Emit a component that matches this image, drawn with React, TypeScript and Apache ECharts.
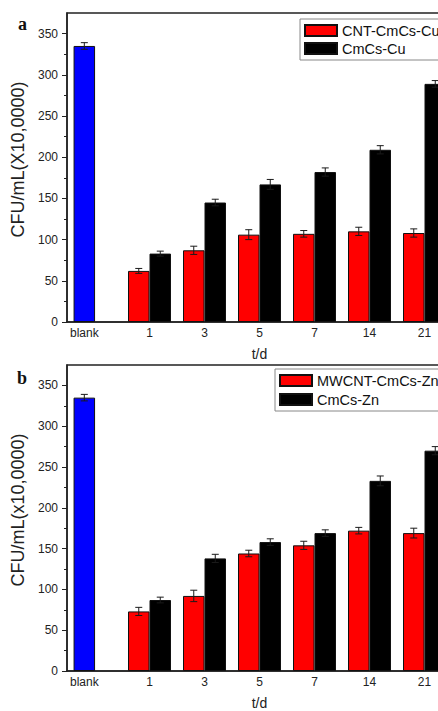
import React, { useEffect, useRef } from "react";
import * as echarts from "echarts";

// ---------- data ----------
const dayLabels = ["1", "3", "5", "7", "14", "21"];
const blankLabel = "blank";

// panel a (Cu)
const blankCu = 335;
const blankCuErr = 4;
const cntCu = [62, 87, 106, 107, 110, 108];
const cntCuErr = [3, 5, 6, 4, 5, 5];
const cmcsCu = [83, 145, 167, 182, 209, 289];
const cmcsCuErr = [3, 4, 6, 5, 5, 4];

// panel b (Zn)
const blankZn = 335;
const blankZnErr = 4;
const mwcntZn = [73, 92, 144, 154, 172, 169];
const mwcntZnErr = [5, 7, 4, 5, 4, 6];
const cmcsZn = [87, 138, 158, 169, 233, 270];
const cmcsZnErr = [3.5, 5, 4, 4, 6, 5];

const yTicks = [0, 50, 100, 150, 200, 250, 300, 350];

// ---------- layout ----------
const FONT = "'Liberation Sans', Arial, sans-serif";
const CHART_W = 460;
const GRID_LEFT = 67;
const GRID_W = 385;
const X_MIN = -0.5;
const X_MAX = 6.5;
const UNIT_PX = GRID_W / (X_MAX - X_MIN);
const BAR_PX = 21.5;
const HALF = BAR_PX / UNIT_PX / 2;
const BLANK_POS = -0.185;
const dayPos = dayLabels.map((_, i) => i + 1);
const labelPos = [BLANK_POS, ...dayPos];
const labelText = [blankLabel, ...dayLabels];

const fmtX = (v: number) => {
  const i = labelPos.findIndex((p) => Math.abs(p - v) < 1e-6);
  return i >= 0 ? labelText[i] : "";
};

const errRender = (params: any, api: any) => {
  const x = api.value(0);
  const y = api.value(1);
  const e = api.value(2);
  const hi = api.coord([x, y + e]);
  const lo = api.coord([x, y - e]);
  const hw = 3.5;
  const st = { stroke: "#1a1a1a", lineWidth: 1 };
  return {
    type: "group",
    children: [
      { type: "line", shape: { x1: hi[0], y1: hi[1], x2: lo[0], y2: lo[1] }, style: st },
      { type: "line", shape: { x1: hi[0] - hw, y1: hi[1], x2: hi[0] + hw, y2: hi[1] }, style: st },
      { type: "line", shape: { x1: lo[0] - hw, y1: lo[1], x2: lo[0] + hw, y2: lo[1] }, style: st },
    ],
  };
};

function panelSeries(
  gi: number,
  blankVal: number,
  blankErr: number,
  redName: string,
  red: number[],
  redErr: number[],
  blackName: string,
  black: number[],
  blackErr: number[]
) {
  const common = {
    type: "bar",
    xAxisIndex: gi,
    yAxisIndex: gi,
    barWidth: BAR_PX,
    barGap: "-100%",
  };
  const border = { borderColor: "#111", borderWidth: 1 };
  const errData = [
    [BLANK_POS, blankVal, blankErr],
    ...red.map((v, i) => [dayPos[i] - HALF, v, redErr[i]]),
    ...black.map((v, i) => [dayPos[i] + HALF, v, blackErr[i]]),
  ];
  return [
    {
      ...common,
      name: "blank" + gi,
      data: [[BLANK_POS, blankVal]],
      itemStyle: { color: "#0000ff", ...border },
    },
    {
      ...common,
      name: redName,
      data: red.map((v, i) => [dayPos[i] - HALF, v]),
      itemStyle: { color: "#ff0000", ...border },
    },
    {
      ...common,
      name: blackName,
      data: black.map((v, i) => [dayPos[i] + HALF, v]),
      itemStyle: { color: "#000000", ...border },
    },
    {
      type: "custom",
      name: "err" + gi,
      xAxisIndex: gi,
      yAxisIndex: gi,
      renderItem: errRender,
      encode: { x: 0, y: [1] },
      data: errData,
      z: 5,
    },
  ];
}

function xAxisFor(gi: number) {
  return {
    type: "value",
    gridIndex: gi,
    min: X_MIN,
    max: X_MAX,
    axisLine: { show: true, onZero: false, lineStyle: { color: "#222", width: 1.5 } },
    axisTick: { show: false },
    splitLine: { show: false },
    axisLabel: {
      customValues: labelPos,
      formatter: fmtX,
      margin: 5,
      fontSize: 12,
      color: "#222",
      fontFamily: FONT,
    },
    name: "t/d",
    nameLocation: "middle",
    nameGap: 25,
    nameTextStyle: { fontSize: 14, color: "#222", fontFamily: FONT },
  };
}

function yAxisFor(gi: number, name: string) {
  return {
    type: "value",
    gridIndex: gi,
    min: 0,
    max: 375,
    interval: 50,
    axisLine: { show: true, onZero: false, lineStyle: { color: "#222", width: 1.5 } },
    axisTick: { show: true, length: 5, lineStyle: { color: "#222" }, customValues: yTicks },
    minorTick: { show: true, splitNumber: 2, length: 3, lineStyle: { color: "#222" } },
    splitLine: { show: false },
    axisLabel: {
      customValues: yTicks,
      margin: 9,
      fontSize: 12,
      color: "#222",
      fontFamily: FONT,
    },
    name,
    nameLocation: "middle",
    nameGap: 39,
    nameTextStyle: { fontSize: 18, color: "#222", fontFamily: FONT, padding: [0, 0, 0, 16] },
  };
}

function legendFor(names: string[], left: number, top: number, gap: number) {
  return {
    data: names,
    orient: "vertical",
    left,
    top,
    icon: "rect",
    itemWidth: 32,
    itemHeight: 11,
    itemGap: gap,
    padding: [4, 60, 4, 4],
    borderColor: "#888",
    borderWidth: 1,
    selectedMode: false,
    textStyle: { fontSize: 14.5, color: "#111", fontFamily: FONT, lineHeight: 14 },
  };
}

export default function App() {
  const ref = useRef<HTMLDivElement>(null);
  useEffect(() => {
    if (!ref.current) return;
    const chart = echarts.init(ref.current, undefined, { renderer: "svg" });
    const gridCommon = {
      left: GRID_LEFT,
      width: GRID_W,
      show: true,
      borderColor: "#222",
      borderWidth: 1.5,
      backgroundColor: "transparent",
    };
    chart.setOption({
      animation: false,
      backgroundColor: "#fff",
      textStyle: { fontFamily: FONT },
      grid: [
        { ...gridCommon, top: 13, height: 309 },
        { ...gridCommon, top: 365, height: 308 },
      ],
      xAxis: [xAxisFor(0), xAxisFor(1)],
      yAxis: [yAxisFor(0, "CFU/mL(X10,0000)"), yAxisFor(1, "CFU/mL(x10,0000)")],
      legend: [
        legendFor(["CNT-CmCs-Cu", "CmCs-Cu"], 300, 19, 3),
        legendFor(["MWCNT-CmCs-Zn", "CmCs-Zn"], 275, 369, 4),
      ],
      graphic: [
        {
          type: "text",
          left: 18,
          top: 15,
          style: { text: "a", fontSize: 18, fontWeight: "bold", fontFamily: "'Liberation Serif', 'Times New Roman', serif", fill: "#111" },
        },
        {
          type: "text",
          left: 17,
          top: 369,
          style: { text: "b", fontSize: 18, fontWeight: "bold", fontFamily: "'Liberation Serif', 'Times New Roman', serif", fill: "#111" },
        },
      ],
      series: [
        ...panelSeries(0, blankCu, blankCuErr, "CNT-CmCs-Cu", cntCu, cntCuErr, "CmCs-Cu", cmcsCu, cmcsCuErr),
        ...panelSeries(1, blankZn, blankZnErr, "MWCNT-CmCs-Zn", mwcntZn, mwcntZnErr, "CmCs-Zn", cmcsZn, cmcsZnErr),
      ],
    });
    return () => chart.dispose();
  }, []);
  return (
    <div
      style={{
        position: "absolute",
        left: 0,
        top: 0,
        width: 438,
        height: 711,
        overflow: "hidden",
        background: "#fff",
      }}
    >
      <div ref={ref} style={{ width: CHART_W, height: 711 }} />
    </div>
  );
}
